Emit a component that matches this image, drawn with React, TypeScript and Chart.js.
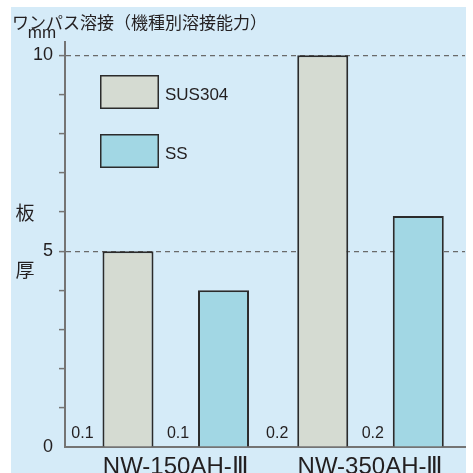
import React, { useEffect, useRef } from "react";
import { Chart, registerables } from "chart.js";

Chart.register(...registerables);

const title = "ワンパス溶接（機種別溶接能力）";
const unitLabel = "mm";
const yTitleChars = ["板", "厚"];
const categories = ["NW-150AH-Ⅲ", "NW-350AH-Ⅲ"];
const seriesNames = ["SUS304", "SS"];
const sus304Max = [5, 10];
const ssMax = [4, 5.9];
const sus304Min = [0.1, 0.2];
const ssMin = [0.1, 0.2];
const yTicks = [0, 1, 2, 3, 4, 5, 6, 7, 8, 9, 10];
const yLabeled = [0, 5, 10];
const dashedAt = [5, 10];

const colors = ["#d5dbd2", "#a2d7e4"];
const PANEL = "#d5ebf8";
const TEXT = "#231f20";
const AXIS = "#747474";
const SANS = "'Liberation Sans', Arial, sans-serif";
const JP = "'Noto Sans CJK JP', sans-serif";

const overlay = {
  id: "overlay",
  beforeDraw(chart: any) {
    const ctx = chart.ctx;
    ctx.save();
    ctx.fillStyle = "#ffffff";
    ctx.fillRect(0, 0, chart.width, chart.height);
    ctx.fillStyle = PANEL;
    ctx.fillRect(11, 7, 455, chart.height - 7);
    ctx.restore();
  },
  afterDatasetsDraw(chart: any) {
    const ctx = chart.ctx;
    const mins = [sus304Min, ssMin];
    ctx.save();
    ctx.fillStyle = TEXT;
    ctx.font = `16px ${SANS}`;
    ctx.textAlign = "center";
    ctx.textBaseline = "middle";
    chart.data.datasets.forEach((_: any, di: number) => {
      const meta = chart.getDatasetMeta(di);
      meta.data.forEach((bar: any, i: number) => {
        const left = bar.x - bar.width / 2;
        ctx.fillText(String(mins[di][i]), left - 20, 434);
      });
    });
    ctx.restore();
  },
  afterDraw(chart: any) {
    const ctx = chart.ctx;
    ctx.save();
    ctx.fillStyle = TEXT;
    ctx.textBaseline = "alphabetic";
    ctx.textAlign = "left";
    ctx.font = `17px ${JP}`;
    ctx.fillText(title, 12, 29);
    ctx.textAlign = "center";
    ctx.font = `17px ${SANS}`;
    ctx.fillText(unitLabel, 42, 38);
    ctx.textBaseline = "middle";
    ctx.font = `19px ${JP}`;
    ctx.fillText(yTitleChars[0], 25, 213);
    ctx.fillText(yTitleChars[1], 25, 270);
    // legend
    const boxTops = [75, 134];
    seriesNames.forEach((name, i) => {
      ctx.fillStyle = colors[i];
      ctx.fillRect(100, boxTops[i], 59, 34);
      ctx.strokeStyle = "#2b2b2b";
      ctx.lineWidth = 1.5;
      ctx.strokeRect(100.75, boxTops[i] + 0.75, 57.5, 32.5);
      ctx.fillStyle = TEXT;
      ctx.textAlign = "left";
      ctx.font = `17px ${SANS}`;
      ctx.fillText(name, 165, boxTops[i] + 20);
    });
    ctx.restore();
  },
};

export default function App() {
  const ref = useRef<HTMLCanvasElement>(null);
  useEffect(() => {
    if (!ref.current) return;
    const chart = new Chart(ref.current, {
      type: "bar",
      data: {
        datasets: [
          {
            label: seriesNames[0],
            data: sus304Max.map((v, i) => ({ x: i, y: v })),
            backgroundColor: colors[0],
            borderColor: "#2b2b2b",
            borderWidth: 2,
            categoryPercentage: 0.981,
            barPercentage: 0.534,
          },
          {
            label: seriesNames[1],
            data: ssMax.map((v, i) => ({ x: i, y: v })),
            backgroundColor: colors[1],
            borderColor: "#2b2b2b",
            borderWidth: 2,
            categoryPercentage: 0.981,
            barPercentage: 0.534,
          },
        ],
      },
      options: {
        animation: false,
        responsive: false,
        layout: { padding: { left: 0, right: 8, top: 42, bottom: 0 } },
        plugins: { legend: { display: false }, tooltip: { enabled: false }, title: { display: false } },
        scales: {
          x: {
            type: "linear",
            offset: false,
            bounds: "data",
            min: -0.5687,
            max: 1.4852,
            afterBuildTicks: (s: any) => {
              s.ticks = categories.map((_, i) => ({ value: i }));
            },
            afterFit: (s: any) => {
              s.height = 26;
              s.paddingLeft = 0;
              s.paddingRight = 0;
            },
            grid: { display: false, drawTicks: false, offset: false },
            border: { display: true, color: AXIS, width: 2 },
            ticks: {
              autoSkip: false,
              maxRotation: 0,
              padding: 6,
              color: TEXT,
              font: { family: SANS, size: 24 },
              callback: (v: any) => categories[v] ?? "",
            },
          },
          y: {
            min: 0,
            max: 10.34,
            afterBuildTicks: (s: any) => {
              s.ticks = yTicks.map((v) => ({ value: v }));
            },
            afterFit: (s: any) => {
              s.width = 65;
            },
            grid: {
              color: (c: any) => (dashedAt.includes(c.tick?.value) ? "#6a6a6a" : "rgba(0,0,0,0)"),
              tickColor: (c: any) => (c.tick?.value === 0 ? "rgba(0,0,0,0)" : AXIS),
              lineWidth: 1.2,
              tickLength: 6,
              tickWidth: 1.5,
            },
            border: { display: true, color: AXIS, width: 2, dash: [5, 4] },
            ticks: {
              padding: 6,
              color: TEXT,
              font: { family: SANS, size: 18 },
              callback: (v: any) => (yLabeled.includes(v) ? String(v) : ""),
            },
          },
        },
      },
      plugins: [overlay],
    } as any);
    return () => chart.destroy();
  }, []);
  return (
    <div style={{ position: "fixed", left: 0, top: 0, width: 473, height: 473 }}>
      <canvas ref={ref} width={473} height={473} style={{ display: "block" }} />
    </div>
  );
}
